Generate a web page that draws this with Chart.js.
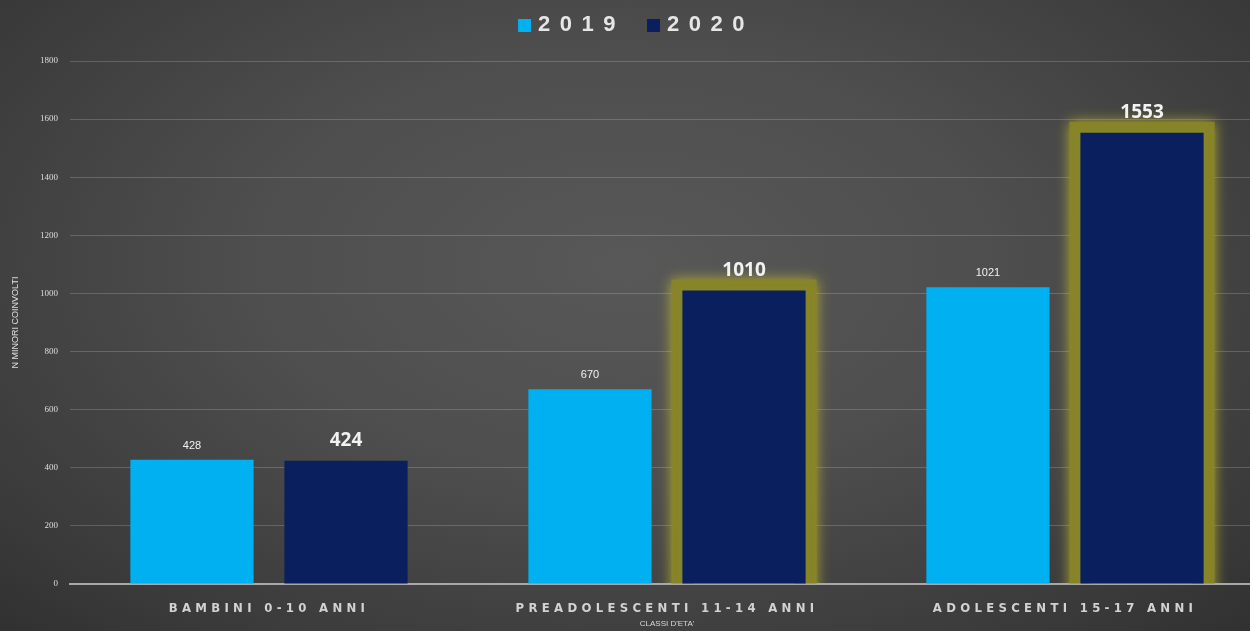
<!DOCTYPE html>
<html>
<head>
<meta charset="utf-8">
<script src="https://cdn.jsdelivr.net/npm/chart.js@4"></script>
<style>
  html, body { margin: 0; padding: 0; }
  body {
    width: 1250px; height: 631px; overflow: hidden;
    background: radial-gradient(ellipse 75% 85% at 50% 42%, #585858 0%, #4e4e4e 40%, #3a3a3a 80%, #2e2e2e 100%);
  }
  #wrap { position: absolute; left: 0; top: 0; width: 1270px; height: 631px; }
</style>
</head>
<body>
<div id="wrap"><canvas id="chart"></canvas></div>
<script>
// categories and values
const categories = ['BAMBINI 0-10 ANNI', 'PREADOLESCENTI 11-14 ANNI', 'ADOLESCENTI 15-17 ANNI'];
const values2019 = [428, 670, 1021];
const values2020 = [424, 1010, 1553];
const highlight2020 = [false, true, true]; // bars with the yellow glow
const yTicks = [0, 200, 400, 600, 800, 1000, 1200, 1400, 1600, 1800];

// glow behind the highlighted 2020 bars
const glowPlugin = {
    id: 'glow',
    beforeDatasetsDraw(chart) {
        const ctx = chart.ctx;
        const meta = chart.getDatasetMeta(1);
        const area = chart.chartArea;
        meta.data.forEach((bar, i) => {
            if (!highlight2020[i]) return;
            const w = bar.width;
            const left = bar.x - w / 2;
            ctx.save();
            ctx.beginPath();
            ctx.rect(area.left, area.top - 40, area.right - area.left, bar.base - area.top + 40);
            ctx.clip();
            ctx.shadowColor = 'rgba(205, 200, 45, 0.8)';
            ctx.shadowBlur = 14;
            ctx.strokeStyle = 'rgba(135, 132, 40, 0.95)';
            ctx.lineWidth = 22;
            ctx.strokeRect(left, bar.y, w, bar.base - bar.y + 20);
            ctx.restore();
        });
    }
};

// value labels above the bars, then letter spacing for the x labels
const labelPlugin = {
    id: 'valueLabels',
    afterDatasetsDraw(chart) {
        const ctx = chart.ctx;
        ctx.save();
        ctx.textAlign = 'center';
        ctx.textBaseline = 'middle';
        ctx.fillStyle = '#f2f2f2';
        chart.data.datasets.forEach((ds, d) => {
            const meta = chart.getDatasetMeta(d);
            ctx.font = ds.labelFont;
            meta.data.forEach((bar, i) => {
                ctx.fillText(ds.data[i], bar.x, bar.y - ds.labelOffset);
            });
        });
        ctx.restore();
        ctx.letterSpacing = '4.3px'; // used by x tick labels (drawn after datasets)
    },
    afterDraw(chart) {
        const ctx = chart.ctx;
        ctx.letterSpacing = '0px';
        // legend on top, spaced out like the original
        ctx.save();
        ctx.letterSpacing = '9.5px';
        ctx.font = 'bold 22px "Liberation Sans", sans-serif';
        ctx.textBaseline = 'middle';
        const items = chart.data.datasets.map(ds => ({ text: ds.label, color: ds.backgroundColor, w: ctx.measureText(ds.label).width }));
        const box = 13, gap = 7, between = 22;
        let total = 0;
        items.forEach((it, i) => { total += box + gap + it.w + (i ? between : 0); });
        let x = 636 - total / 2;
        items.forEach(it => {
            ctx.fillStyle = it.color;
            ctx.fillRect(x, 19, box, box);
            x += box + gap;
            ctx.fillStyle = '#e6e6e6';
            ctx.fillText(it.text, x, 25);
            x += it.w + between;
        });
        ctx.restore();
    }
};

new Chart(document.getElementById('chart'), {
    type: 'bar',
    data: {
        labels: categories,
        datasets: [
            {
                label: '2019',
                data: values2019,
                backgroundColor: '#00b0f0',
                labelFont: '11px "Liberation Sans", sans-serif',
                labelOffset: 14
            },
            {
                label: '2020',
                data: values2020,
                backgroundColor: '#0a1f5e',
                labelFont: 'bold 19px "Open Sans", "Liberation Sans", sans-serif',
                labelOffset: 20
            }
        ]
    },
    options: {
        responsive: true,
        maintainAspectRatio: false,
        animation: false,
        devicePixelRatio: 1,
        categoryPercentage: 0.774,
        barPercentage: 0.8,
        layout: { padding: { top: 61, right: 6, left: 0, bottom: 0 } },
        plugins: {
            legend: { display: false },
            tooltip: { enabled: false }
        },
        scales: {
            x: {
                grid: { display: false, drawTicks: false },
                border: { color: '#a8a8a8', width: 2 },
                ticks: {
                    z: 1,
                    color: '#d2d2d2',
                    padding: 17,
                    maxRotation: 0,
                    autoSkip: false,
                    font: { family: '"Liberation Sans Narrow", "DejaVu Sans Condensed", sans-serif', size: 13, weight: 'bold' }
                },
                title: {
                    display: true,
                    text: "CLASSI D'ETA'",
                    color: '#d8d8d8',
                    padding: { top: 0, bottom: 2 },
                    font: { family: '"Liberation Sans Narrow", sans-serif', size: 8 }
                },
                afterFit(scale) { scale.height = 47; }
            },
            y: {
                min: 0,
                max: 1800,
                afterBuildTicks(scale) { scale.ticks = yTicks.map(v => ({ value: v })); },
                grid: { color: 'rgba(255,255,255,0.18)', lineWidth: 1, drawTicks: false },
                border: { display: false },
                ticks: {
                    color: '#dedede',
                    padding: 12,
                    callback: v => String(v),
                    font: { family: '"Liberation Serif", serif', size: 9 }
                },
                title: {
                    display: true,
                    text: 'N MINORI COINVOLTI',
                    color: '#e0e0e0',
                    padding: { top: 10, bottom: 0 },
                    font: { family: '"Liberation Sans Narrow", sans-serif', size: 9 }
                },
                afterFit(scale) { scale.width = 70; }
            }
        }
    },
    plugins: [glowPlugin, labelPlugin]
});
</script>
</body>
</html>
